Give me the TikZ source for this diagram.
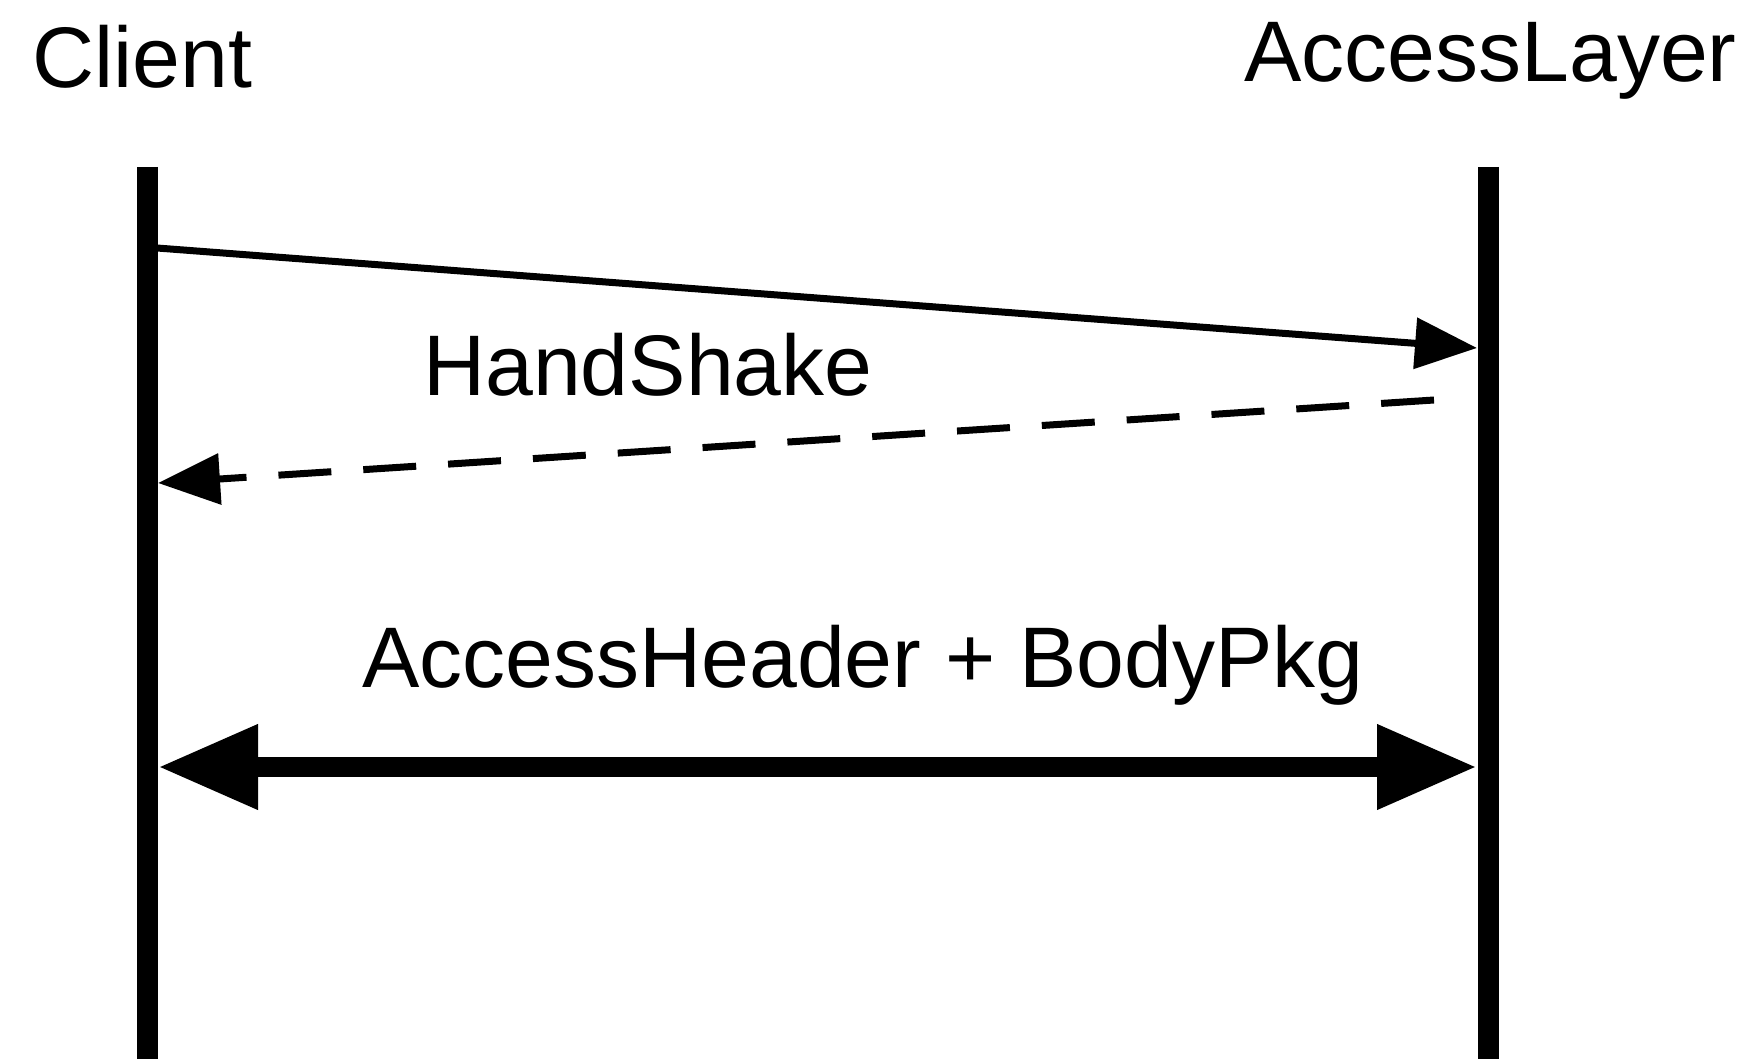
\documentclass[tikz,border=0pt]{standalone}
\usepackage{fontspec}
\setmainfont{Liberation Sans}
\usetikzlibrary{arrows.meta}
\begin{document}
\begin{tikzpicture}[x=1pt,y=-1pt,
  lbl/.style={inner sep=0pt,anchor=base west,font=\fontsize{86}{100}\selectfont},
  lifeline/.style={line width=21pt},
  msg/.style={line width=7pt,-{Triangle[length=62pt,width=50pt]}},
  reply/.style={line width=7pt,dash pattern=on 53pt off 32pt,-{Triangle[length=62pt,width=50pt]}},
  both/.style={line width=20pt,{Triangle[length=100pt,width=80pt]}-{Triangle[length=100pt,width=80pt]}}]
\useasboundingbox[fill=white] (0,0) rectangle (1751,1059);
% participants
\node[lbl] (client) at (32,88) {Client};
\node[lbl] (access) at (1244,82) {AccessLayer};
% lifelines
\coordinate (ctop) at (147,167);
\coordinate (cbot) at (147,1059);
\coordinate (atop) at (1488,167);
\coordinate (abot) at (1488,1059);
\draw[lifeline] (ctop) -- (cbot);
\draw[lifeline] (atop) -- (abot);
% message anchors
\coordinate (m1s) at (157,248);
\coordinate (m1e) at (1477,348);
\coordinate (m2s) at (1434,400);
\coordinate (m2e) at (158,483);
\coordinate (m3l) at (158,767);
\coordinate (m3r) at (1477,767);
\draw[msg] (m1s) -- (m1e);
\draw[reply] (m2s) -- (m2e);
\draw[both] (m3l) -- (m3r);
% labels
\node[lbl] (hs) at (423,395) {HandShake};
\node[lbl] (ahb) at (362,687) {AccessHeader + BodyPkg};
\end{tikzpicture}
\end{document}
